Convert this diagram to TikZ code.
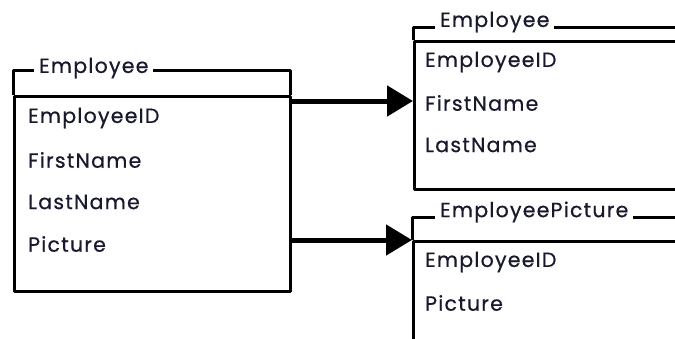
\documentclass[tikz,border=0pt]{standalone}
\usepackage{fontspec}
\setmainfont{Poppins}[FakeBold=0.6, LetterSpace=6]
\usetikzlibrary{arrows.meta}
\definecolor{txt}{RGB}{25,25,45}
\begin{document}
\begin{tikzpicture}[x=1pt,y=-1pt,
  boxline/.style={line width=3pt, line join=round},
  ttl/.style={fill=white, inner xsep=5pt, inner ysep=0pt, text=txt, font=\fontsize{20.5}{24}\selectfont, anchor=west},
  fld/.style={inner sep=0pt, text=txt, font=\fontsize{20.5}{24}\selectfont, anchor=west},
  conn/.style={line width=5pt, -{Triangle[length=26pt,width=30pt]}}]
\useasboundingbox (0,0) rectangle (675,338);
\clip (0,0) rectangle (675,338);
\fill[white] (0,0) rectangle (675,338);
% left table
\draw[boxline] (13,95) -- (13,70) -- (290,70) -- (290,95);
\node[draw, boxline, minimum width=276pt, minimum height=195pt, anchor=north west, inner sep=0pt] (L) at (13,95) {};
\node[ttl] (Lt) at (34,68) {Employee};
\node[fld] (L1) at (28,118) {EmployeeID};
\node[fld] (L2) at (28,160) {FirstName};
\node[fld] (L3) at (28,202) {LastName};
\node[fld] (L4) at (28,244) {Picture};
% right top table
\draw[boxline] (413,40) -- (413,27) -- (700,27);
\node[draw, boxline, minimum width=300pt, minimum height=148pt, anchor=north west, inner sep=0pt] (R) at (413,40) {};
\node[ttl] (Rt) at (435,22) {Employee};
\node[fld] (R1) at (425,62) {EmployeeID};
\node[fld] (R2) at (425,103) {FirstName};
\node[fld] (R3) at (425,145) {LastName};
% right bottom table
\draw[boxline] (412,240) -- (412,217) -- (700,217);
\node[draw, boxline, minimum width=300pt, minimum height=140pt, anchor=north west, inner sep=0pt] (P) at (412,240) {};
\node[ttl] (Pt) at (435,212) {EmployeePicture};
\node[fld] (P1) at (425,262) {EmployeeID};
\node[fld] (P2) at (425,303) {Picture};
% connectors
\coordinate (a1) at (L.north east |- 0,101);
\coordinate (b1) at (R.west |- 0,101);
\coordinate (a2) at (L.east |- 0,240);
\coordinate (b2) at (P.west |- 0,240);
\draw[conn] (a1) -- (b1);
\draw[conn] (a2) -- (b2);
\end{tikzpicture}
\end{document}
